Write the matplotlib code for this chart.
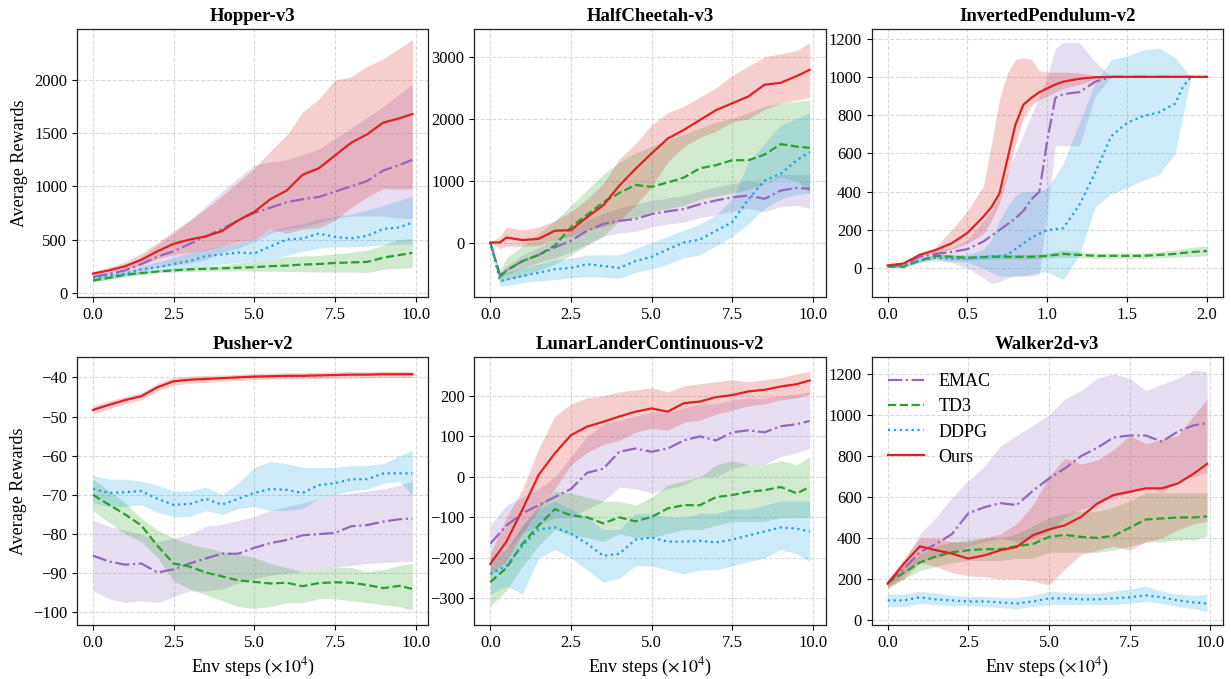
import matplotlib as mpl
mpl.use("Agg")
import matplotlib.pyplot as plt
import numpy as np
from matplotlib.ticker import FormatStrFormatter, MultipleLocator

mpl.rcParams.update(
    {
        "font.family": "serif",
        "font.serif": ["Liberation Serif", "DejaVu Serif"],
        "mathtext.fontset": "stix",
        "font.size": 12,
        "axes.linewidth": 0.9,
        "axes.edgecolor": "#222222",
        "xtick.labelsize": 12,
        "ytick.labelsize": 12,
    }
)

C_EMAC = "#9467bd"
C_TD3 = "#2ca02c"
C_DDPG = "#1ba1e2"
C_OURS = "#dd2222"

# ---------------- Hopper-v3 ----------------
HOP_X = [0, 0.5, 1, 1.5, 2, 2.5, 3, 3.5, 4, 4.5, 5, 5.5, 6, 6.5, 7, 7.5, 8, 8.5, 9, 9.5, 9.9]
HOP_OURS = [180, 210, 250, 310, 390, 460, 500, 530, 580, 680, 760, 880, 960, 1110, 1170, 1290, 1410, 1490, 1600, 1640, 1680]
HOP_OURS_HI = [200, 240, 290, 370, 470, 580, 680, 790, 910, 1040, 1170, 1330, 1480, 1700, 1820, 2000, 2030, 2130, 2200, 2300, 2380]
HOP_OURS_LO = [160, 185, 215, 260, 320, 360, 380, 400, 440, 480, 500, 600, 560, 600, 610, 680, 800, 900, 980, 975, 980]
HOP_EMAC = [150, 175, 210, 270, 340, 390, 460, 530, 600, 680, 750, 800, 850, 880, 900, 950, 1000, 1050, 1150, 1200, 1250]
HOP_EMAC_HI = [170, 200, 250, 340, 450, 560, 680, 820, 950, 1080, 1200, 1230, 1250, 1300, 1350, 1450, 1550, 1650, 1750, 1870, 1960]
HOP_EMAC_LO = [130, 150, 170, 200, 240, 260, 280, 310, 380, 420, 480, 560, 600, 620, 660, 700, 720, 720, 720, 700, 700]
HOP_DDPG = [140, 160, 180, 220, 240, 270, 300, 345, 360, 378, 370, 435, 500, 510, 557, 525, 510, 535, 600, 615, 660]
HOP_DDPG_HI = [160, 180, 200, 250, 290, 330, 380, 410, 440, 470, 500, 590, 620, 650, 690, 720, 740, 780, 820, 870, 910]
HOP_DDPG_LO = [110, 130, 150, 180, 200, 215, 230, 250, 270, 285, 300, 320, 350, 390, 420, 430, 430, 440, 450, 455, 460]
HOP_TD3 = [115, 140, 170, 185, 200, 210, 220, 225, 230, 235, 240, 250, 255, 265, 270, 280, 285, 290, 330, 355, 375]
HOP_TD3_HI = [130, 160, 185, 200, 215, 230, 240, 250, 260, 280, 300, 320, 340, 345, 350, 365, 380, 400, 450, 500, 510]
HOP_TD3_LO = [100, 125, 155, 170, 185, 195, 200, 203, 205, 205, 205, 203, 200, 198, 195, 195, 195, 190, 220, 230, 235]

# ---------------- HalfCheetah-v3 ----------------
HC_X = [0, 0.3, 0.5, 1, 1.5, 2, 2.5, 3, 3.5, 4, 4.5, 5, 5.5, 6, 6.5, 7, 7.5, 8, 8.5, 9, 9.5, 9.9]
HC_OURS = [0, 0, 80, 40, 60, 190, 200, 410, 600, 920, 1190, 1440, 1680, 1820, 1980, 2140, 2250, 2360, 2550, 2580, 2690, 2790]
HC_OURS_HI = [0, 100, 250, 200, 250, 350, 500, 700, 950, 1350, 1600, 1900, 2100, 2200, 2350, 2500, 2700, 2850, 3000, 3050, 3100, 3230]
HC_OURS_LO = [0, -100, -60, -60, -50, 50, 100, 200, 250, 350, 600, 900, 1300, 1550, 1700, 1800, 1950, 2000, 2150, 2250, 2300, 2350]
HC_TD3 = [0, -550, -450, -300, -200, -50, 250, 450, 650, 800, 930, 900, 970, 1050, 1200, 1250, 1330, 1330, 1420, 1590, 1550, 1530]
HC_TD3_HI = [0, -450, -250, -50, 150, 350, 600, 850, 1100, 1300, 1450, 1550, 1650, 1750, 1850, 1950, 2000, 2100, 2200, 2250, 2280, 2300]
HC_TD3_LO = [0, -650, -600, -550, -450, -350, -200, -50, 100, 350, 400, 500, 550, 600, 700, 750, 800, 850, 950, 1050, 1000, 800]
HC_EMAC = [0, -530, -450, -300, -200, -80, 30, 190, 300, 350, 380, 460, 505, 540, 620, 680, 730, 760, 705, 840, 880, 870]
HC_EMAC_HI = [0, -480, -380, -200, -80, 50, 200, 350, 470, 560, 620, 680, 720, 760, 830, 900, 950, 1000, 950, 1100, 1100, 1100]
HC_EMAC_LO = [0, -580, -520, -420, -320, -250, -150, -20, 100, 150, 180, 250, 300, 330, 400, 450, 500, 550, 500, 580, 600, 550]
HC_DDPG = [0, -620, -600, -540, -490, -430, -410, -350, -380, -410, -300, -230, -110, 0, 50, 190, 330, 700, 1000, 1110, 1330, 1460]
HC_DDPG_HI = [0, -500, -480, -420, -350, -280, -250, -200, -200, -200, -100, 0, 100, 200, 300, 450, 700, 1300, 1600, 1900, 2000, 2100]
HC_DDPG_LO = [0, -700, -700, -650, -620, -600, -570, -550, -560, -580, -480, -430, -350, -250, -200, -50, 100, 300, 550, 700, 780, 800]

# ---------------- InvertedPendulum-v2 ----------------
IP_X = [0, 0.1, 0.2, 0.3, 0.4, 0.5, 0.6, 0.65, 0.7, 0.75, 0.8, 0.85, 0.9, 0.95, 1.0, 1.05, 1.1,
        1.2, 1.3, 1.4, 1.5, 1.6, 1.7, 1.8, 1.85, 1.9, 2.0]
IP_OURS = [15, 25, 70, 95, 130, 185, 270, 320, 390, 570, 750, 855, 890, 920, 940, 960, 975,
           990, 998, 1000, 1000, 1000, 1000, 1000, 1000, 1000, 1000]
IP_OURS_HI = [20, 32, 80, 110, 200, 300, 430, 650, 880, 1020, 1090, 1100, 1090, 1030, 1025, 1025, 1025,
              1020, 1008, 1000, 1000, 1000, 1000, 1000, 1000, 1000, 1000]
IP_OURS_LO = [10, 18, 60, 80, 100, 130, 180, 250, 340, 480, 650, 780, 850, 880, 900, 920, 940,
              960, 988, 1000, 1000, 1000, 1000, 1000, 1000, 1000, 1000]
IP_EMAC = [10, 15, 60, 75, 85, 100, 140, 170, 200, 230, 260, 300, 360, 400, 670, 890, 910,
           920, 975, 1000, 1000, 1000, 1000, 1000, 1000, 1000, 1000]
IP_EMAC_HI = [15, 20, 70, 90, 110, 150, 250, 300, 380, 500, 600, 700, 800, 900, 1000, 1150, 1180,
              1180, 1080, 1000, 1000, 1000, 1000, 1000, 1000, 1000, 1000]
IP_EMAC_LO = [5, 8, 40, 50, 30, 0, -50, -80, -70, -50, -40, -40, -40, -30, 300, 640, 640,
              640, 900, 1000, 1000, 1000, 1000, 1000, 1000, 1000, 1000]
IP_DDPG = [10, 15, 40, 55, 50, 50, 60, 62, 65, 70, 100, 130, 160, 180, 200, 205, 210,
           330, 500, 690, 760, 795, 815, 860, 950, 1000, 1000]
IP_DDPG_HI = [15, 20, 50, 70, 70, 70, 100, 150, 250, 320, 380, 400, 400, 400, 420, 480, 550,
              760, 970, 1090, 1110, 1140, 1150, 1100, 1050, 1000, 1000]
IP_DDPG_LO = [5, 10, 30, 40, 35, 30, 0, -20, -40, -40, -40, -40, -30, -20, -20, -40, -60,
              70, 320, 390, 420, 460, 490, 600, 800, 1000, 1000]
IP_TD3 = [10, 8, 40, 65, 60, 55, 58, 60, 60, 60, 60, 60, 60, 62, 65, 70, 75,
          70, 65, 65, 65, 65, 70, 75, 80, 85, 90]
IP_TD3_HI = [15, 13, 50, 77, 72, 67, 70, 72, 72, 72, 72, 72, 72, 74, 80, 88, 95,
             88, 80, 80, 80, 80, 88, 95, 102, 110, 115]
IP_TD3_LO = [5, 3, 30, 53, 48, 43, 46, 48, 48, 48, 48, 48, 48, 50, 52, 55, 58,
             55, 52, 52, 52, 52, 55, 58, 60, 62, 65]

# ---------------- Pusher-v2 ----------------
PU_X = HOP_X
PU_OURS = [-48.3, -47.0, -45.8, -44.8, -42.5, -41.0, -40.6, -40.4, -40.2, -40.0, -39.8, -39.7, -39.6, -39.6, -39.5, -39.4, -39.3, -39.3, -39.2, -39.2, -39.2]
PU_OURS_HI = [-47.3, -46.0, -44.9, -43.9, -41.5, -40.0, -39.7, -39.5, -39.4, -39.2, -39.0, -38.9, -38.8, -38.8, -38.7, -38.6, -38.5, -38.5, -38.4, -38.4, -38.4]
PU_OURS_LO = [-49.3, -48.0, -46.7, -45.7, -43.5, -42.0, -41.5, -41.3, -41.0, -40.8, -40.6, -40.5, -40.4, -40.4, -40.3, -40.2, -40.1, -40.1, -40.0, -40.0, -40.0]
PU_DDPG = [-68.5, -69.5, -69.3, -69.0, -71.0, -72.5, -72.3, -71.0, -72.5, -71.0, -69.5, -68.5, -68.7, -69.5, -67.5, -67.0, -66.0, -66.0, -64.5, -64.5, -64.5]
PU_DDPG_HI = [-65.0, -66.0, -66.0, -66.5, -67.5, -69.0, -69.0, -68.0, -70.0, -67.0, -63.0, -61.5, -62.0, -63.0, -63.0, -63.0, -62.5, -62.5, -62.0, -60.0, -58.5]
PU_DDPG_LO = [-72.0, -73.0, -73.0, -72.5, -74.5, -75.5, -75.5, -74.0, -75.0, -73.5, -73.0, -74.0, -74.0, -73.5, -71.0, -70.0, -69.0, -68.5, -67.0, -66.5, -70.0]
PU_TD3 = [-70.0, -72.5, -75.0, -77.8, -83.0, -87.5, -88.3, -89.8, -90.8, -91.8, -92.2, -92.6, -92.4, -93.3, -92.5, -92.3, -92.4, -93.0, -93.8, -93.2, -94.0]
PU_TD3_HI = [-66.0, -69.0, -72.0, -76.0, -79.0, -81.0, -82.5, -83.5, -84.5, -85.0, -86.0, -87.5, -88.5, -89.5, -89.0, -88.5, -88.5, -89.5, -89.0, -88.0, -87.5]
PU_TD3_LO = [-74.0, -77.0, -80.0, -82.0, -86.0, -92.0, -94.0, -95.5, -97.0, -98.5, -99.0, -98.5, -97.5, -97.5, -96.5, -96.5, -97.0, -97.5, -98.0, -98.5, -99.5]
PU_EMAC = [-85.5, -87.0, -87.8, -87.5, -89.8, -89.0, -87.5, -86.2, -85.0, -85.0, -83.5, -82.3, -81.5, -80.3, -80.0, -79.7, -78.0, -77.7, -76.8, -76.2, -76.0]
PU_EMAC_HI = [-76.5, -78.0, -79.0, -80.0, -82.0, -81.0, -80.0, -78.0, -77.5, -76.5, -75.5, -74.0, -73.0, -72.0, -71.0, -70.0, -69.5, -69.0, -68.5, -67.5, -66.5]
PU_EMAC_LO = [-94.5, -96.5, -97.5, -97.0, -97.5, -96.0, -94.5, -94.5, -94.0, -92.5, -91.5, -90.5, -90.0, -89.5, -89.0, -88.5, -88.0, -87.5, -87.3, -87.0, -87.0]

# ---------------- LunarLanderContinuous-v2 ----------------
LL_X = HOP_X
LL_OURS = [-215, -160, -80, 5, 58, 103, 124, 136, 149, 161, 169, 161, 182, 186, 197, 202, 211, 215, 223, 229, 238]
LL_OURS_HI = [-190, -100, -30, 70, 150, 180, 195, 200, 210, 215, 220, 210, 225, 230, 235, 240, 235, 240, 245, 255, 260]
LL_OURS_LO = [-240, -210, -140, -80, -30, 30, 60, 80, 90, 110, 120, 115, 135, 140, 155, 165, 175, 180, 190, 195, 205]
LL_EMAC = [-165, -120, -90, -70, -50, -30, 10, 20, 62, 70, 62, 70, 90, 100, 90, 110, 115, 110, 125, 130, 138]
LL_EMAC_HI = [-120, -70, -50, -30, 0, 50, 100, 130, 140, 150, 160, 160, 170, 180, 180, 190, 195, 195, 200, 205, 210]
LL_EMAC_LO = [-220, -180, -140, -120, -100, -100, -80, -60, -25, -30, -40, -30, -20, 0, 0, 20, 30, 30, 50, 60, 70]
LL_TD3 = [-260, -225, -165, -120, -80, -95, -100, -115, -100, -110, -99, -78, -70, -70, -50, -45, -37, -33, -25, -41, -25]
LL_TD3_HI = [-220, -180, -120, -70, -35, -40, -50, -60, -60, -70, -50, -20, -10, 0, 30, 40, 30, 30, 40, 30, 50]
LL_TD3_LO = [-320, -280, -220, -170, -130, -145, -150, -160, -140, -150, -150, -140, -130, -130, -120, -110, -110, -110, -100, -100, -100]
LL_DDPG = [-240, -220, -170, -130, -125, -140, -165, -195, -190, -155, -150, -160, -160, -158, -162, -155, -145, -135, -125, -128, -135]
LL_DDPG_HI = [-200, -180, -120, -80, -60, -80, -100, -130, -130, -90, -90, -100, -100, -90, -90, -80, -80, -70, -60, -60, -60]
LL_DDPG_LO = [-290, -270, -290, -200, -180, -200, -230, -260, -250, -220, -220, -230, -240, -230, -230, -220, -210, -200, -180, -190, -210]

# ---------------- Walker2d-v3 ----------------
WK_X = HOP_X
WK_OURS = [176, 274, 359, 340, 323, 299, 315, 340, 356, 413, 441, 462, 503, 568, 609, 625, 642, 642, 666, 715, 761]
WK_OURS_HI = [190, 300, 400, 400, 380, 380, 400, 420, 470, 560, 700, 790, 760, 780, 830, 900, 860, 880, 900, 1000, 1080]
WK_OURS_LO = [160, 200, 280, 260, 230, 215, 210, 200, 200, 190, 170, 250, 320, 340, 360, 340, 380, 400, 440, 470, 480]
WK_EMAC = [180, 250, 330, 370, 420, 520, 550, 570, 560, 630, 690, 740, 800, 840, 890, 900, 900, 870, 920, 950, 960]
WK_EMAC_HI = [200, 280, 420, 500, 600, 680, 750, 850, 900, 950, 1000, 1080, 1120, 1180, 1200, 1180, 1120, 1150, 1180, 1220, 1210]
WK_EMAC_LO = [160, 220, 290, 300, 330, 360, 380, 400, 380, 400, 430, 500, 540, 560, 600, 620, 650, 620, 680, 700, 720]
WK_TD3 = [180, 230, 280, 310, 330, 340, 345, 345, 360, 370, 405, 415, 405, 400, 410, 450, 490, 495, 500, 500, 505]
WK_TD3_HI = [200, 260, 320, 360, 380, 390, 400, 400, 420, 460, 500, 520, 530, 530, 550, 580, 620, 620, 620, 620, 620]
WK_TD3_LO = [150, 200, 240, 260, 280, 290, 290, 290, 300, 300, 330, 330, 330, 330, 340, 360, 380, 380, 390, 390, 410]
WK_DDPG = [95, 95, 110, 100, 95, 90, 90, 85, 80, 90, 105, 105, 100, 100, 105, 110, 120, 110, 95, 85, 80]
WK_DDPG_HI = [125, 125, 140, 130, 120, 115, 115, 110, 110, 120, 140, 135, 130, 130, 140, 150, 165, 140, 125, 120, 125]
WK_DDPG_LO = [65, 65, 80, 75, 70, 70, 65, 60, 55, 65, 75, 75, 75, 75, 75, 80, 90, 80, 65, 55, 40]

METHODS = [("EMAC", C_EMAC, "-."), ("TD3", C_TD3, "--"), ("DDPG", C_DDPG, ":"), ("Ours", C_OURS, "-")]

PANELS = [
    ("Hopper-v3", HOP_X, (-40, 2480), 2.5,
     [(HOP_EMAC, HOP_EMAC_LO, HOP_EMAC_HI), (HOP_TD3, HOP_TD3_LO, HOP_TD3_HI),
      (HOP_DDPG, HOP_DDPG_LO, HOP_DDPG_HI), (HOP_OURS, HOP_OURS_LO, HOP_OURS_HI)]),
    ("HalfCheetah-v3", HC_X, (-880, 3450), 2.5,
     [(HC_EMAC, HC_EMAC_LO, HC_EMAC_HI), (HC_TD3, HC_TD3_LO, HC_TD3_HI),
      (HC_DDPG, HC_DDPG_LO, HC_DDPG_HI), (HC_OURS, HC_OURS_LO, HC_OURS_HI)]),
    ("InvertedPendulum-v2", IP_X, (-150, 1250), 0.5,
     [(IP_EMAC, IP_EMAC_LO, IP_EMAC_HI), (IP_TD3, IP_TD3_LO, IP_TD3_HI),
      (IP_DDPG, IP_DDPG_LO, IP_DDPG_HI), (IP_OURS, IP_OURS_LO, IP_OURS_HI)]),
    ("Pusher-v2", PU_X, (-103.2, -34.8), 2.5,
     [(PU_EMAC, PU_EMAC_LO, PU_EMAC_HI), (PU_TD3, PU_TD3_LO, PU_TD3_HI),
      (PU_DDPG, PU_DDPG_LO, PU_DDPG_HI), (PU_OURS, PU_OURS_LO, PU_OURS_HI)]),
    ("LunarLanderContinuous-v2", LL_X, (-366, 296), 2.5,
     [(LL_EMAC, LL_EMAC_LO, LL_EMAC_HI), (LL_TD3, LL_TD3_LO, LL_TD3_HI),
      (LL_DDPG, LL_DDPG_LO, LL_DDPG_HI), (LL_OURS, LL_OURS_LO, LL_OURS_HI)]),
    ("Walker2d-v3", WK_X, (-25, 1283), 2.5,
     [(WK_EMAC, WK_EMAC_LO, WK_EMAC_HI), (WK_TD3, WK_TD3_LO, WK_TD3_HI),
      (WK_DDPG, WK_DDPG_LO, WK_DDPG_HI), (WK_OURS, WK_OURS_LO, WK_OURS_HI)]),
]

fig, axes = plt.subplots(2, 3, figsize=(12.31, 6.79), dpi=100)
fig.subplots_adjust(left=77 / 1231, right=1223 / 1231, top=1 - 29 / 679,
                    bottom=1 - 625 / 679, wspace=0.131, hspace=0.224)

for idx, (ax, (title, x, ylim, xstep, series)) in enumerate(zip(axes.flat, PANELS)):
    x = np.asarray(x)
    for (name, color, ls), (mean, lo, hi) in zip(METHODS, series):
        ax.fill_between(x, lo, hi, color=color, alpha=0.22, linewidth=0)
    for (name, color, ls), (mean, lo, hi) in zip(METHODS, series):
        ax.plot(x, mean, color=color, ls=ls, lw=1.6, label=name)
    ax.set_title(title, fontsize=13.5, fontweight="bold")
    ax.set_ylim(*ylim)
    ax.xaxis.set_major_locator(MultipleLocator(xstep))
    ax.xaxis.set_major_formatter(FormatStrFormatter("%.1f"))
    ax.grid(True, ls="--", color="#dadada", lw=0.8)
    ax.set_axisbelow(True)
    if idx % 3 == 0:
        ax.set_ylabel("Average Rewards", fontsize=13)
    if idx >= 3:
        ax.set_xlabel(r"Env steps ($\times 10^4$)", fontsize=13)

axes[1, 2].legend(loc="upper left", frameon=False, fontsize=13, handlelength=2.0,
                  handletextpad=0.8, labelspacing=0.45)

fig.savefig("out.png", dpi=100)
